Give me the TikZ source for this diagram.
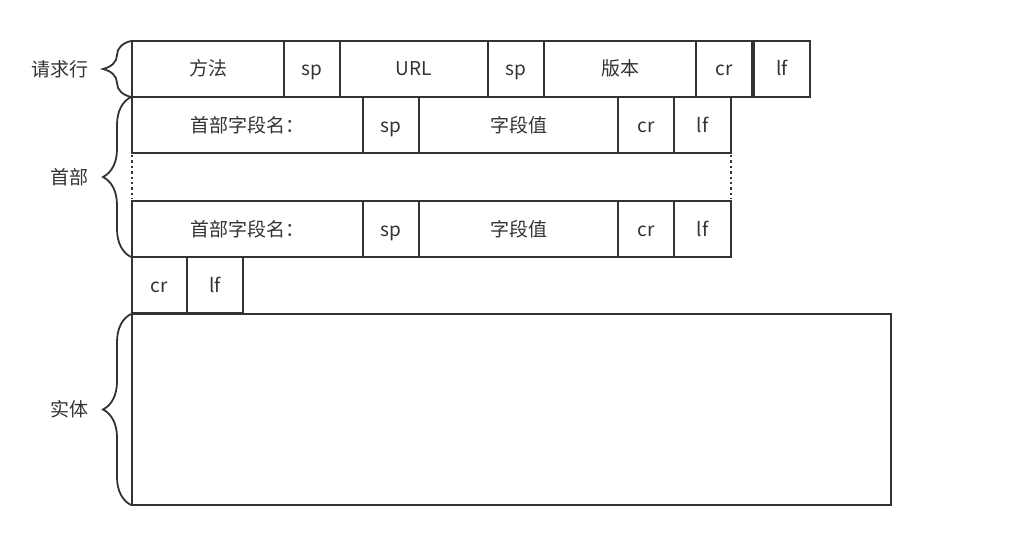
\documentclass[tikz,border=0pt]{standalone}
\usepackage{fontspec}
\setmainfont{Noto Sans CJK SC}
\usepackage{tikz}
\usetikzlibrary{positioning, decorations.pathreplacing}
\definecolor{linec}{HTML}{333333}
\definecolor{textc}{HTML}{333333}

\begin{document}
\begin{tikzpicture}[
    x=1pt, y=-1pt,
    field/.style={draw=linec, line width=1.8pt, minimum height=56pt, inner sep=0pt,
                  outer sep=0pt, text=textc, text height=17pt, text depth=3pt,
                  font=\fontsize{19}{22}\selectfont},
    brc/.style={decorate, decoration={brace, amplitude=28pt, aspect=0.5},
                draw=linec, line width=1.8pt},
    lbl/.style={text=textc, font=\fontsize{19}{22}\selectfont, anchor=east},
    dots/.style={draw=linec, line width=2.4pt, dash pattern=on 2.4pt off 3pt},
    node distance=0pt
]
\useasboundingbox (0,0) rectangle (1014,559);

% request line
\node[field, minimum width=152pt, anchor=north west] (meth) at (132,41) {方法};
\node[field, minimum width=56pt, right=of meth] (sp1) {sp};
\node[field, minimum width=148pt, right=of sp1] (url) {URL};
\node[field, minimum width=56pt, right=of url] (sp2) {sp};
\node[field, minimum width=152pt, right=of sp2] (ver) {版本};
\node[field, minimum width=56pt, right=of ver] (rcr) {cr};
\node[field, minimum width=56pt, right=2pt of rcr] (rlf) {lf};

% header lines
\node[field, minimum width=231pt, anchor=north west] (hname) at (132,97) {首部字段名：};
\node[field, minimum width=56pt, right=of hname] (hsp) {sp};
\node[field, minimum width=199pt, right=of hsp] (hval) {字段值};
\node[field, minimum width=56pt, right=of hval] (hcr) {cr};
\node[field, minimum width=57pt, right=of hcr] (hlf) {lf};

\node[field, minimum width=231pt, anchor=north west] (tname) at (132,201) {首部字段名：};
\node[field, minimum width=56pt, right=of tname] (tsp) {sp};
\node[field, minimum width=199pt, right=of tsp] (tval) {字段值};
\node[field, minimum width=56pt, right=of tval] (tcr) {cr};
\node[field, minimum width=57pt, right=of tcr] (tlf) {lf};

\draw[dots] ([yshift=-2pt]hname.south west) -- ([yshift=2pt]tname.north west);
\draw[dots] ([yshift=-2pt]hlf.south east) -- ([yshift=2pt]tlf.north east);

% blank line
\node[field, minimum width=55pt, anchor=north west] (ecr) at (132,257) {cr};
\node[field, minimum width=56pt, right=of ecr] (elf) {lf};

% body
\node[field, minimum width=759pt, minimum height=191pt, anchor=north west] (body) at (132,314) {};

% braces
\draw[brc] ([xshift=-1pt]meth.south west) -- ([xshift=-1pt]meth.north west)
    node[lbl, midway, xshift=-38pt] (lreq) {请求行};
\draw[brc] ([xshift=-1pt]tname.south west) -- ([xshift=-1pt]hname.north west)
    node[lbl, midway, xshift=-38pt] (lhead) {首部};
\draw[brc] ([xshift=-1pt]body.south west) -- ([xshift=-1pt]body.north west)
    node[lbl, midway, xshift=-38pt] (lbody) {实体};

\end{tikzpicture}
\end{document}
